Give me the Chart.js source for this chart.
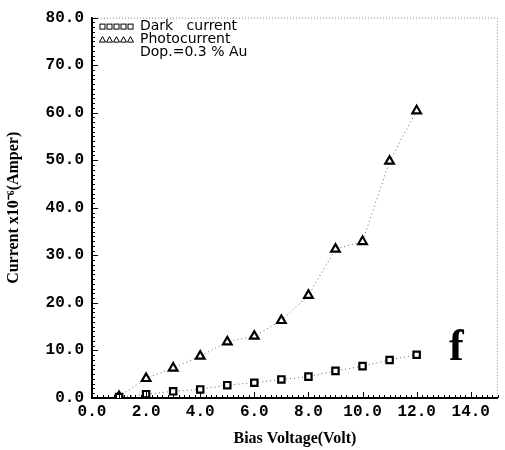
<!DOCTYPE html>
<html lang="en">
<head>
  <meta charset="UTF-8" />
  <title>Dark current and photocurrent</title>
  <script src="https://cdn.jsdelivr.net/npm/chart.js"></script>
  <style>
    html, body { margin: 0; padding: 0; background: #fff; }
    #wrap { width: 505px; height: 450px; position: relative; }
  </style>
</head>
<body>
  <div id="wrap"><canvas id="chart"></canvas></div>
  <script>
    // bias voltage (Volt)
    const voltage = [1, 2, 3, 4, 5, 6, 7, 8, 9, 10, 11, 12];
    // current x10^-6 A
    const darkCurrent = [0.2, 0.8, 1.4, 1.8, 2.7, 3.2, 3.9, 4.5, 5.7, 6.7, 8.0, 9.1];
    const photoCurrent = [0.3, 4.1, 6.3, 8.8, 11.8, 13.0, 16.3, 21.6, 31.3, 32.9, 49.8, 60.4];
    const xTicks = [0, 2, 4, 6, 8, 10, 12, 14];
    const legendLines = ['Dark   current', 'Photocurrent', 'Dop.=0.3 % Au'];
    const panelLabel = 'f';

    const tickFont = { family: '"Liberation Mono", monospace', size: 16, weight: 'bold' };
    const titleFont = { family: '"Liberation Serif", serif', size: 16, weight: 'bold' };

    // frame, minor ticks, legend and panel letter
    const decorations = {
      id: 'decorations',
      afterDraw(chart) {
        const { ctx, chartArea: a, scales: { x, y } } = chart;
        ctx.save();
        ctx.strokeStyle = '#888';
        ctx.lineWidth = 1;
        ctx.setLineDash([1, 2]);
        ctx.beginPath();
        ctx.moveTo(a.left, a.top + 0.5); ctx.lineTo(a.right - 0.5, a.top + 0.5); ctx.lineTo(a.right - 0.5, a.bottom);
        ctx.stroke();
        ctx.setLineDash([]);

        ctx.strokeStyle = '#000';
        ctx.beginPath();
        for (let v = 0; v <= 15.001; v += 0.2) {
          const px = Math.round(x.getPixelForValue(v)) + 0.5;
          const len = Math.abs(v - Math.round(v / 2) * 2) < 0.01 ? 6 : 3;
          ctx.moveTo(px, a.bottom); ctx.lineTo(px, a.bottom - len);
        }
        for (let v = 0; v <= 80.001; v += 1) {
          const py = Math.round(y.getPixelForValue(v)) + 0.5;
          const len = v % 10 === 0 ? 6 : 3;
          ctx.moveTo(a.left, py); ctx.lineTo(a.left + len, py);
        }
        ctx.stroke();

        // legend box contents
        ctx.font = '14px "DejaVu Sans", sans-serif';
        ctx.fillStyle = '#000';
        ctx.textBaseline = 'middle';
        const lx = a.left + 8, ly = a.top + 9;
        for (let i = 0; i < 5; i++) {
          ctx.strokeRect(lx + i * 7, ly - 2.5, 5, 5);
          const tx = lx + i * 7 + 2.5, ty = ly + 13;
          ctx.beginPath();
          ctx.moveTo(tx, ty - 3); ctx.lineTo(tx + 3, ty + 2.5); ctx.lineTo(tx - 3, ty + 2.5);
          ctx.closePath(); ctx.stroke();
        }
        legendLines.forEach((t, i) => ctx.fillText(t, lx + 40, ly + i * 13));

        ctx.font = 'bold 44px "Liberation Serif", serif';
        ctx.textBaseline = 'alphabetic';
        ctx.fillText(panelLabel, x.getPixelForValue(13.2), y.getPixelForValue(8));
        ctx.restore();
      }
    };

    new Chart(document.getElementById('chart'), {
      type: 'line',
      data: {
        labels: voltage,
        datasets: [
          {
            label: 'Dark current',
            data: voltage.map((v, i) => ({ x: v, y: darkCurrent[i] })),
            borderColor: '#666', borderWidth: 1, borderDash: [1, 3],
            pointStyle: 'rect', pointRadius: 4.5, pointBorderWidth: 2.2,
            pointBorderColor: '#000', pointBackgroundColor: '#fff'
          },
          {
            label: 'Photocurrent',
            data: voltage.map((v, i) => ({ x: v, y: photoCurrent[i] })),
            borderColor: '#666', borderWidth: 1, borderDash: [1, 3],
            pointStyle: 'triangle', pointRadius: 5, pointBorderWidth: 2.2,
            pointBorderColor: '#000', pointBackgroundColor: '#fff'
          }
        ]
      },
      options: {
        responsive: true,
        maintainAspectRatio: false,
        animation: false,
        layout: { padding: { top: 7, right: 2, bottom: 2, left: 4 } },
        plugins: { legend: { display: false }, tooltip: { enabled: false } },
        scales: {
          x: {
            type: 'linear', min: 0, max: 15,
            grid: { display: false, drawTicks: false },
            border: { color: '#000', width: 2 },
            afterBuildTicks: s => { s.ticks = xTicks.map(v => ({ value: v })); },
            ticks: {
              autoSkip: false, maxRotation: 0, color: '#000', font: tickFont, padding: 4,
              callback: v => v.toFixed(1)
            },
            title: {
              display: true, text: 'Bias Voltage(Volt)', color: '#000',
              font: titleFont, padding: { top: 2, bottom: 0 }
            },
            afterFit: s => { s.height = 50; }
          },
          y: {
            min: 0, max: 80,
            grid: { display: false, drawTicks: false },
            border: { color: '#000', width: 2 },
            ticks: {
              stepSize: 10, color: '#000', font: tickFont, padding: 8,
              callback: v => v.toFixed(1)
            },
            title: {
              display: true, text: 'Current x10⁻⁶(Amper)', color: '#000',
              font: titleFont, padding: { top: 0, bottom: 0 }
            },
            afterFit: s => { s.width = 88; }
          }
        }
      },
      plugins: [decorations]
    });
  </script>
</body>
</html>
